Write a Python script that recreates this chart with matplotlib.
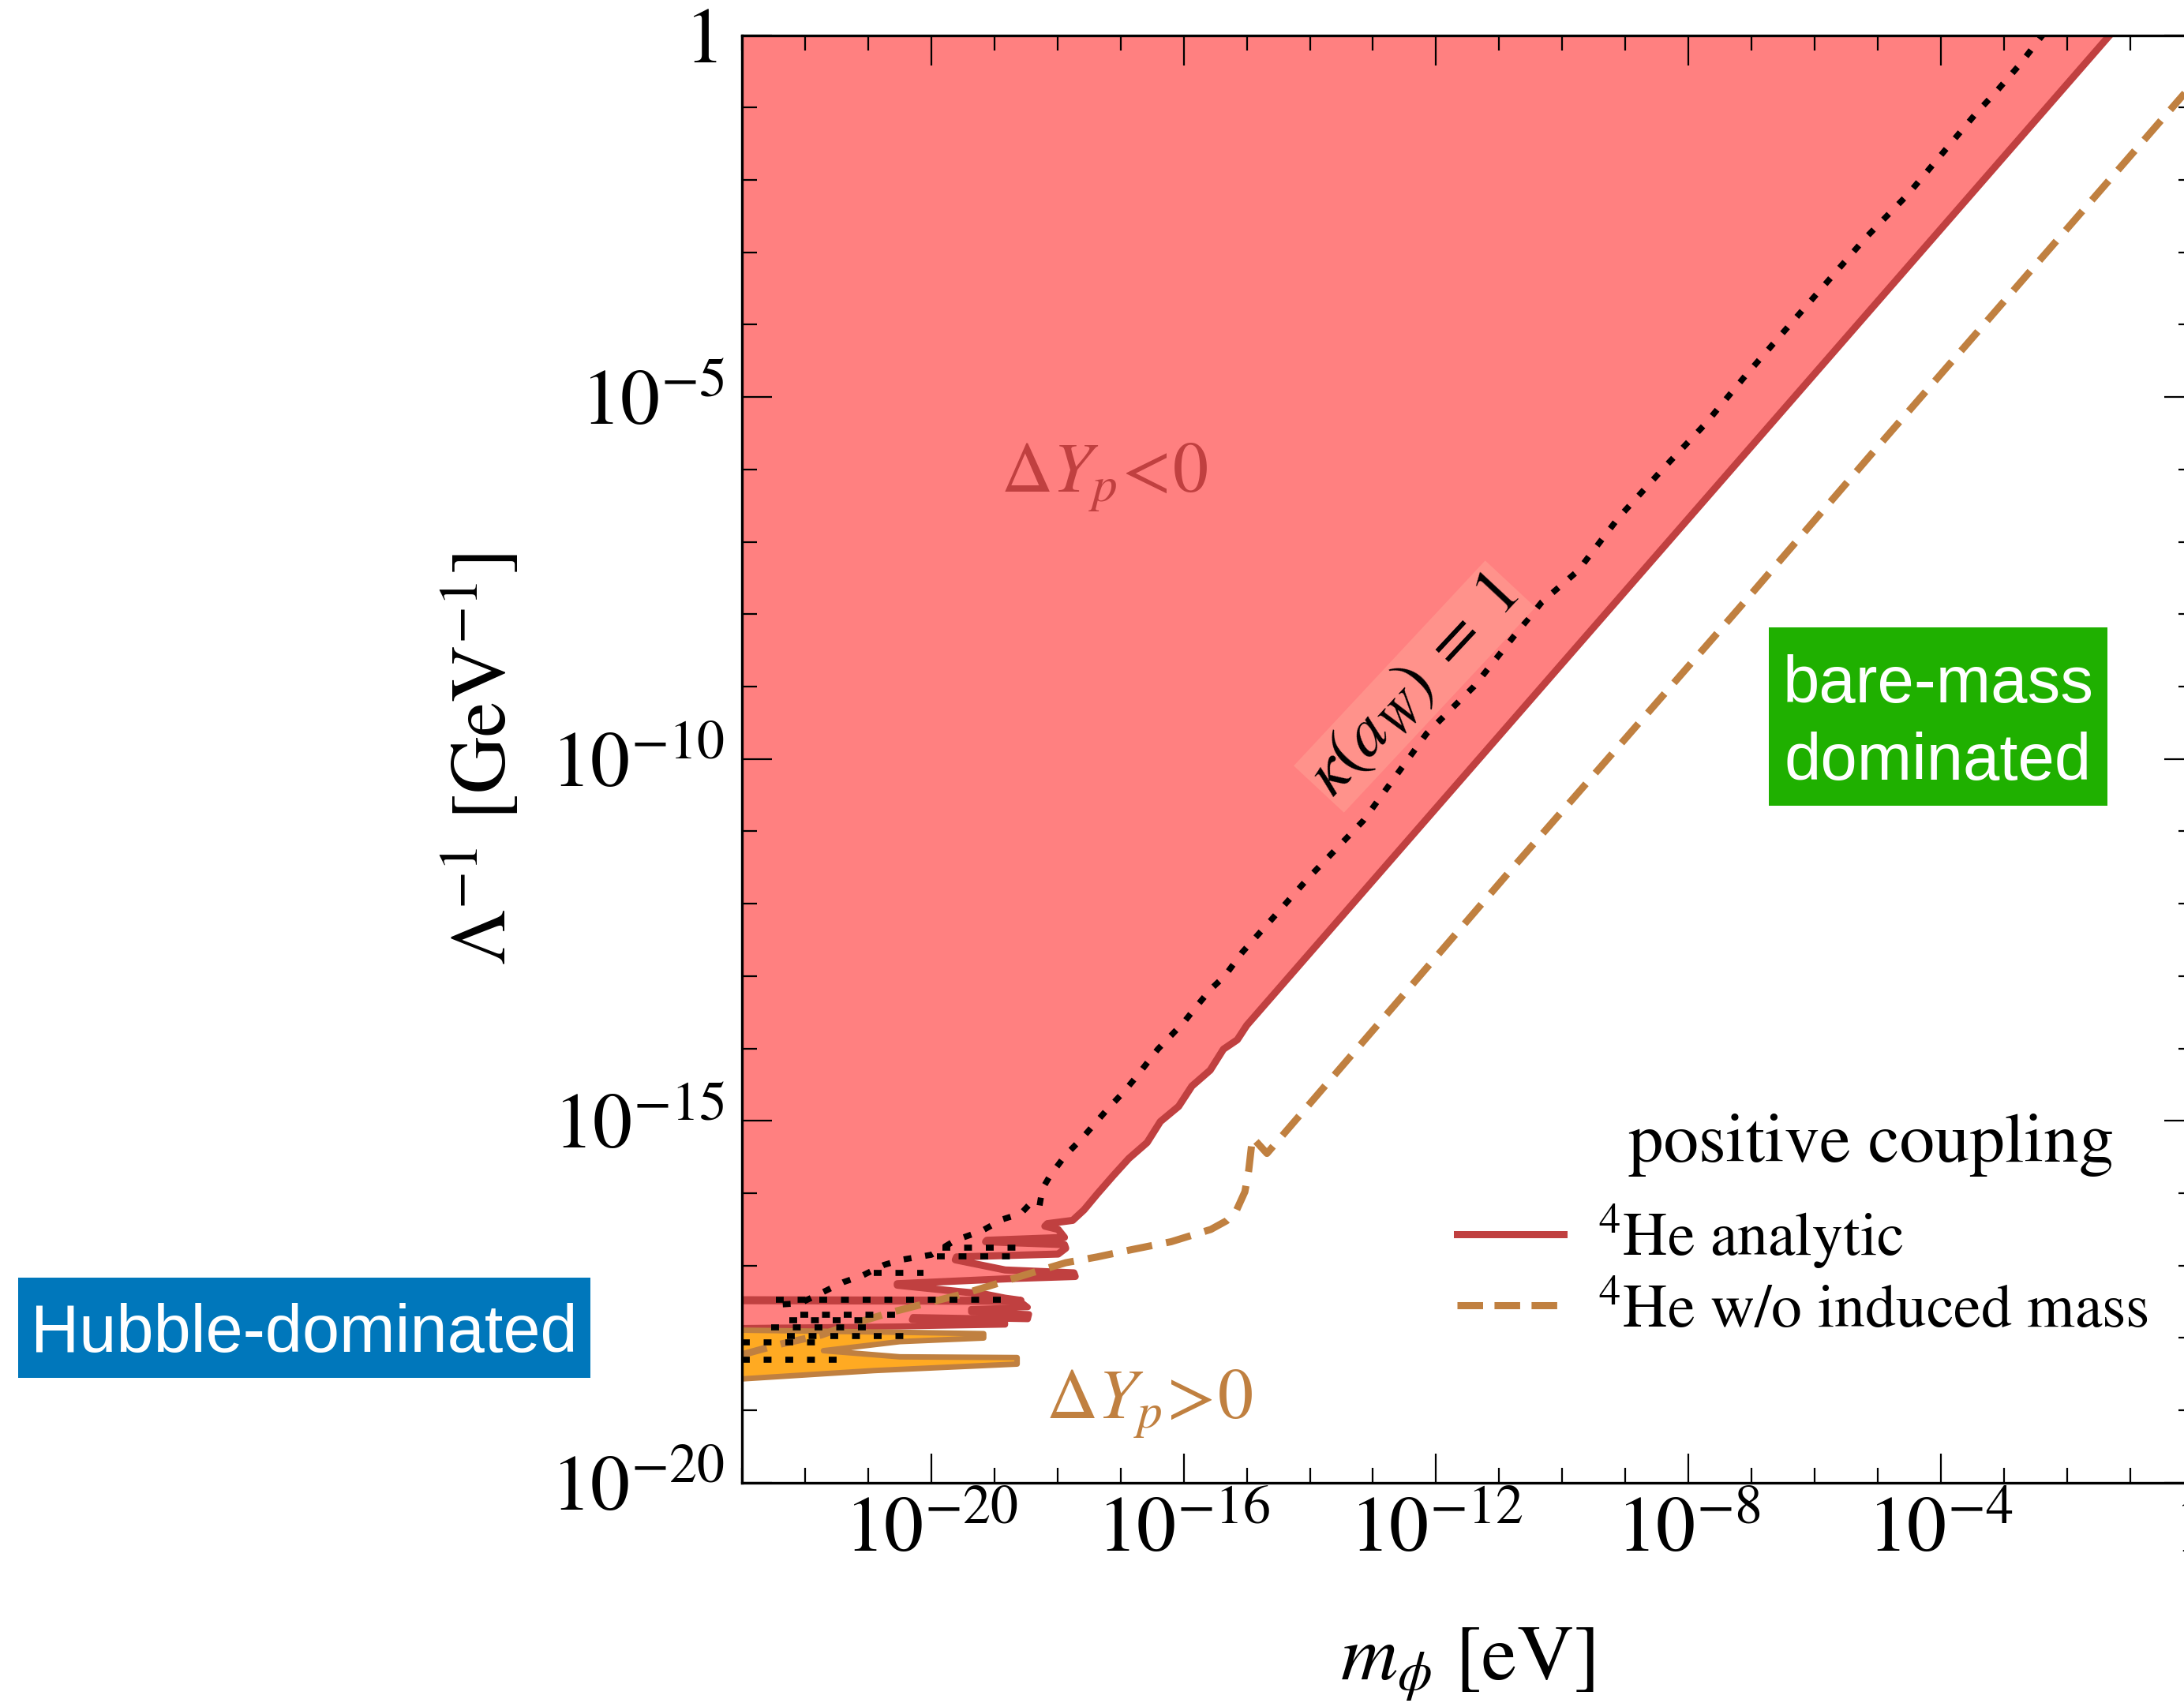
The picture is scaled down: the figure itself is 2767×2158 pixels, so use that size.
import numpy as np
import matplotlib.pyplot as plt
from matplotlib.lines import Line2D
from matplotlib.patches import Rectangle
from matplotlib.ticker import FixedLocator, FuncFormatter, NullFormatter

plt.rcParams['font.family'] = 'STIXGeneral'
plt.rcParams['mathtext.fontset'] = 'stix'

# all curves given as log10(m_phi / eV), log10(Lambda^-1 / GeV^-1)

# 4He analytic bound (edge of the Delta Y_p < 0 region, incl. oscillating tail)
red_edge_lm = [-0.82, -15.00, -15.15, -15.37, -15.58, -15.87, -16.08, -16.37, -16.58, -16.87,
               -17.12, -17.37, -17.58, -17.76, -18.16, -18.20, -17.99, -17.89, -19.12, -19.14,
               -17.89, -17.87, -17.99, -19.60, -19.62, -18.83, -17.74, -17.72, -18.62, -20.54,
               -20.54, -19.54, -19.18, -18.83, -18.58, -24.0, -24.0]
red_edge_ll = [0.50, -13.68, -13.88, -14.01, -14.30, -14.52, -14.80, -15.01, -15.30, -15.52,
               -15.76, -16.01, -16.23, -16.375, -16.42, -16.455, -16.50, -16.61, -16.65, -16.67,
               -16.71, -16.76, -16.84, -16.88, -16.92, -17.06, -17.10, -17.15, -17.175, -17.25,
               -17.27, -17.36, -17.39, -17.45, -17.48, -17.47, 0.50]

# lower strip of the Delta Y_p < 0 region
red_strip_lm = [-24.0, -18.58, -18.47, -19.37, -19.37, -18.45, -18.47, -20.29, -20.31, -18.83,
                -18.83, -20.50, -24.0]
red_strip_ll = [-17.49, -17.50, -17.575, -17.60, -17.64, -17.67, -17.74, -17.71, -17.75, -17.79,
                -17.815, -17.84, -17.87]

# Delta Y_p > 0 region
orange_lm = [-24.0, -20.58, -19.17, -19.17, -20.50, -21.71, -20.50, -18.64, -18.64, -20.91, -24.0]
orange_ll = [-17.88, -17.92, -17.94, -18.00, -18.05, -18.175, -18.26, -18.27, -18.36, -18.45, -18.62]

# 4He bound without the induced mass
noind_lm = [-23.0, -22.37, -21.75, -21.33, -20.66, -20.08, -19.45, -19.04, -18.41, -17.87,
            -17.37, -16.83, -16.20, -15.57, -15.32, -15.16, -15.03, -14.97, -14.91, -14.68,
            -10.82, -7.19, -5.14, -0.26, 0.0]
noind_ll = [-18.23, -18.08, -17.96, -17.83, -17.65, -17.52, -17.38, -17.27, -17.10, -16.96,
            -16.88, -16.78, -16.67, -16.50, -16.38, -16.23, -15.98, -15.69, -15.23, -15.45,
            -11.54, -7.91, -5.83, -0.93, -0.67]

# kappa(a_W) = 1 contour
kappa_lm = [-2.36, -2.75, -3.16, -3.43, -4.52, -5.19, -5.88, -6.51, -7.10, -7.73, -8.39, -9.11,
            -9.75, -10.32, -10.77, -11.40, -12.15, -13.15, -14.03, -14.66, -15.07, -15.35, -15.57,
            -15.78, -15.99, -16.41, -16.74, -16.95, -17.22, -17.62, -17.87, -18.12, -18.24, -18.29,
            -18.45, -18.58, -18.87, -19.20, -19.62, -20.00, -20.48, -20.75, -21.10, -21.40, -21.75,
            -22.08, -22.45]
kappa_ll = [0.03, -0.41, -0.82, -1.07, -2.20, -2.80, -3.49, -4.12, -4.71, -5.37, -5.98, -6.67,
            -7.40, -7.83, -8.31, -9.00, -9.65, -10.85, -11.65, -12.27, -12.67, -13.00, -13.18,
            -13.40, -13.63, -14.01, -14.38, -14.60, -14.85, -15.25, -15.47, -15.76, -15.94, -16.20,
            -16.16, -16.28, -16.36, -16.52, -16.65, -16.85, -16.92, -16.99, -17.14, -17.23, -17.38,
            -17.52, -17.54]
# flat pieces of the same contour in the oscillating region
kappa_row_ll = [-16.75, -16.87, -17.10, -17.466, -17.677, -17.757, -17.848, -17.975, -18.055, -18.30]
kappa_row_lo = [-19.83, -19.91, -20.91, -22.46, -22.08, -22.25, -22.54, -22.29, -23.0, -23.0]
kappa_row_hi = [-18.54, -18.70, -20.12, -18.89, -20.46, -20.87, -20.91, -20.41, -21.71, -21.37]

x_major = [-20, -16, -12, -8, -4, 0]
y_major = [-20, -15, -10, -5, 0]

RED = '#c04040'
RED_FILL = '#ff8080'
ORANGE = '#ffaa22'
BROWN = '#c08040'

W, H = 2767, 2158
fig = plt.figure(figsize=((W + 0.5) / 100, (H + 0.5) / 100), dpi=100)
ax = fig.add_axes([940 / W, 1 - 1879 / H, 1838 / W, 1834 / H])
ax.set_xscale('log')
ax.set_yscale('log')


def p10(v):
    return 10.0 ** np.asarray(v)


ax.fill(p10(red_edge_lm), p10(red_edge_ll), fc=RED_FILL, ec=RED, lw=6.5, joinstyle='round', zorder=1)
ax.fill(p10(red_strip_lm), p10(red_strip_ll), fc=RED_FILL, ec=RED, lw=5.5, joinstyle='round', zorder=1)
ax.fill(p10(orange_lm), p10(orange_ll), fc=ORANGE, ec=BROWN, lw=5.0, joinstyle='round', zorder=2)

ax.plot(p10(noind_lm), p10(noind_ll), color=BROWN, lw=6.5, ls=(0, (3.6, 2.0)), zorder=3)

kstyle = dict(color='black', lw=5.5, ls=(0, (1.3, 2.3)), dash_capstyle='butt', zorder=4)
ax.plot(p10(kappa_lm), p10(kappa_ll), **kstyle)
for ll, lo, hi in zip(kappa_row_ll, kappa_row_lo, kappa_row_hi):
    ax.plot(p10([lo, hi]), p10([ll, ll]), **kstyle)

ax.set_xlim(1e-23, 1)
ax.set_ylim(1e-20, 1)


def fmt(v, pos):
    e = int(round(np.log10(v)))
    return '1' if e == 0 else r'$10^{%d}$' % e


ax.xaxis.set_major_locator(FixedLocator(p10(x_major)))
ax.xaxis.set_minor_locator(FixedLocator(p10(np.arange(-23, 1))))
ax.yaxis.set_major_locator(FixedLocator(p10(y_major)))
ax.yaxis.set_minor_locator(FixedLocator(p10(np.arange(-20, 1))))
ax.xaxis.set_major_formatter(FuncFormatter(fmt))
ax.yaxis.set_major_formatter(FuncFormatter(fmt))
ax.xaxis.set_minor_formatter(NullFormatter())
ax.yaxis.set_minor_formatter(NullFormatter())

ax.tick_params(which='both', direction='in', top=True, right=True, width=1.6, labelsize=72)
ax.tick_params(which='major', length=27)
ax.tick_params(which='minor', length=13.5)
ax.tick_params(axis='x', which='major', pad=13)
ax.tick_params(axis='y', which='major', pad=16)
for s in ax.spines.values():
    s.set_linewidth(2.4)
    s.set_zorder(6)

ax.set_xlabel(r'$m_\phi$ [eV]', fontsize=72)
ax.xaxis.set_label_coords(0.5, -0.099)
ax.set_ylabel(r'$\Lambda^{-1}$ [GeV$^{-1}$]', fontsize=72)
ax.yaxis.set_label_coords(-0.151, 0.5)

# region labels
ax.text(p10(-17.26), p10(-6.30), r'$\Delta Y_p\!<\!0$', color=RED, fontsize=65,
        ha='center', va='baseline', zorder=5)
ax.text(p10(-16.55), p10(-19.10), r'$\Delta Y_p\!>\!0$', color=BROWN, fontsize=65,
        ha='center', va='baseline', zorder=5)
ax.text(p10(-12.34), p10(-9.00), r'$\kappa(a_W)\;=\;1$', fontsize=62, rotation=47,
        rotation_mode='anchor', ha='center', va='center', zorder=5,
        bbox=dict(boxstyle='square,pad=0.05', fc='#ff928b', ec='none'))

# legend
handles = [Line2D([], [], color=RED, lw=6.5),
           Line2D([], [], color=BROWN, lw=6.5, ls=(0, (3.6, 1.6)))]
leg = ax.legend(handles, [r'$^{4}$He analytic', r'$^{4}$He w/o induced mass'],
                loc='upper left', bbox_to_anchor=(1846 / W, 1 - 1524 / H),
                bbox_transform=fig.transFigure, frameon=False, fontsize=56,
                handlelength=1.73, handletextpad=0.56, labelspacing=0.22,
                borderpad=0, borderaxespad=0)
leg.set_zorder(7)
fig.text(2370 / W, 1 - 1472 / H, 'positive coupling', fontsize=64, ha='center', va='baseline')


# coloured regime boxes (pixel coordinates of the figure)
def box(x0, y0, x1, y1, color):
    fig.add_artist(Rectangle((x0 / W, 1 - y1 / H), (x1 - x0) / W, (y1 - y0) / H,
                             transform=fig.transFigure, fc=color, ec='none', zorder=8))


box(23, 1619, 748, 1746, '#0077bb')
fig.text(385 / W, 1 - 1713 / H, 'Hubble-dominated', family='Liberation Sans', fontsize=61,
         color='white', ha='center', va='baseline', zorder=9)

box(2241, 795, 2670, 1021, '#1fb000')
fig.text(2455 / W, 1 - 890 / H, 'bare-mass', family='Liberation Sans', fontsize=60,
         color='white', ha='center', va='baseline', zorder=9)
fig.text(2455 / W, 1 - 988 / H, 'dominated', family='Liberation Sans', fontsize=60,
         color='white', ha='center', va='baseline', zorder=9)

fig.savefig('out.png', dpi=100)
